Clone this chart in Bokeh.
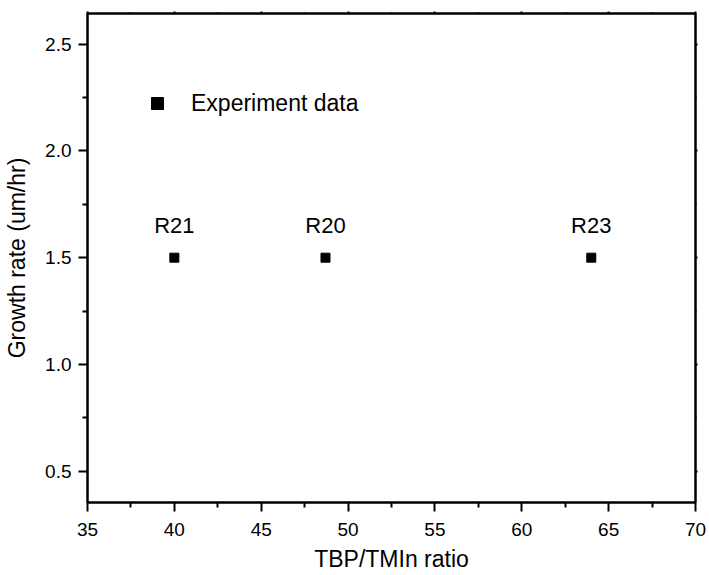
from bokeh.plotting import figure
from bokeh.models import (LinearAxis, FixedTicker, Range1d, Legend, LegendItem,
                          ColumnDataSource, PrintfTickFormatter)
from bokeh.core.properties import value
from bokeh.embed import file_html
from bokeh.resources import INLINE

ratio = [40.0, 48.7, 64.0]
growth = [1.5, 1.5, 1.5]
run_labels = ["R21", "R20", "R23"]
series_name = "Experiment data"
x_ticks = [35, 40, 45, 50, 55, 60, 65, 70]
x_minor = [37.5, 42.5, 47.5, 52.5, 57.5, 62.5, 67.5]
y_ticks = [0.5, 1.0, 1.5, 2.0, 2.5]
y_minor = [0.75, 1.25, 1.75, 2.25]

FONT = "Liberation Sans"

p = figure(width=709, height=575, output_backend="svg", toolbar_location=None,
           x_range=Range1d(35, 70), y_range=Range1d(0.353, 2.644),
           x_axis_type=None, y_axis_type=None,
           min_border_left=87, min_border_right=14, min_border_top=13,
           min_border_bottom=73)
p.grid.visible = False
p.outline_line_color = "black"
p.outline_line_width = 2
p.background_fill_color = "white"
p.border_fill_color = "white"

def style(ax, labels=True):
    ax.axis_line_width = 2
    ax.major_tick_line_width = 2
    ax.minor_tick_line_width = 2
    ax.major_label_text_font = FONT
    ax.major_label_text_font_size = "19px"
    ax.major_label_text_color = "black"
    ax.axis_label_text_font = FONT
    ax.axis_label_text_font_size = "23px"
    ax.axis_label_text_font_style = "normal"
    ax.axis_label_text_color = "black"
    ax.major_tick_in = 0
    ax.minor_tick_in = 0
    if labels:
        ax.major_tick_out = 9
        ax.minor_tick_out = 5
    else:
        ax.major_tick_out = 2
        ax.minor_tick_out = 1
        ax.major_label_text_font_size = "0px"
        ax.major_label_text_color = None

xb = LinearAxis(ticker=FixedTicker(ticks=x_ticks, minor_ticks=x_minor),
                axis_label="TBP/TMIn ratio")
style(xb)
xb.major_label_standoff = 11
xb.axis_label_standoff = 7
p.add_layout(xb, "below")

yl = LinearAxis(ticker=FixedTicker(ticks=y_ticks, minor_ticks=y_minor),
                axis_label="Growth rate (um/hr)",
                formatter=PrintfTickFormatter(format="%.1f"))
style(yl)
yl.major_label_standoff = 7
yl.axis_label_standoff = 12
p.add_layout(yl, "left")

xt = LinearAxis(ticker=FixedTicker(ticks=x_ticks, minor_ticks=x_minor))
style(xt, labels=False)
p.add_layout(xt, "above")
yr = LinearAxis(ticker=FixedTicker(ticks=y_ticks, minor_ticks=y_minor))
style(yr, labels=False)
p.add_layout(yr, "right")

src = ColumnDataSource(dict(x=ratio, y=growth, lab=run_labels))
pts = p.scatter("x", "y", source=src, marker="square", size=9,
                fill_color="black", line_color="black")
p.text("x", "y", text="lab", source=src, text_font=value(FONT),
       text_font_size="22px", text_align="center", text_baseline="alphabetic",
       y_offset=-32, text_color="black")

leg = Legend(items=[LegendItem(label=series_name, renderers=[pts], index=0)],
             location=(55, 384), background_fill_alpha=0, border_line_color=None,
             margin=0, padding=0, glyph_width=30, glyph_height=30,
             label_standoff=19, label_text_font=FONT,
             label_text_font_size="23px", label_text_color="black")
p.add_layout(leg, "center")

open("out.html", "w").write(file_html(p, INLINE))
